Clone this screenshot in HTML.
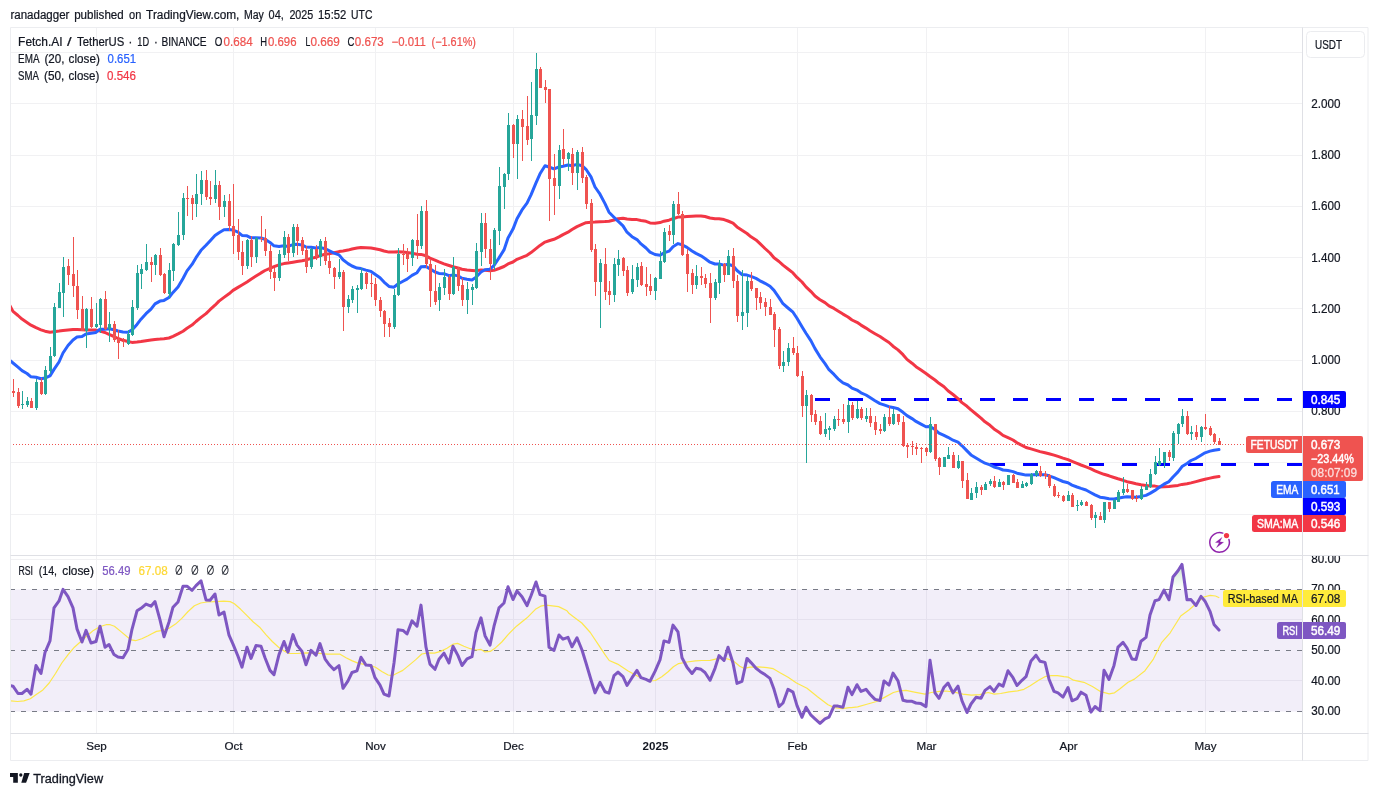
<!DOCTYPE html><html><head><meta charset="utf-8"><title>FETUSDT chart</title>
<style>html,body{margin:0;padding:0;background:#fff}svg{display:block}text{font-family:"Liberation Sans",sans-serif}</style></head><body>
<svg width="1378" height="796" viewBox="0 0 1378 796">
<rect width="1378" height="796" fill="#fff"/>
<defs><clipPath id="cm"><rect x="10.5" y="27.5" width="1292" height="528"/></clipPath><clipPath id="cr"><rect x="10.5" y="556" width="1292" height="177.5"/></clipPath><linearGradient id="gob" x1="0" y1="558" x2="0" y2="589.4" gradientUnits="userSpaceOnUse"><stop offset="0" stop-color="#4caf50" stop-opacity="0.35"/><stop offset="1" stop-color="#4caf50" stop-opacity="0"/></linearGradient><linearGradient id="gos" x1="0" y1="711.4" x2="0" y2="733" gradientUnits="userSpaceOnUse"><stop offset="0" stop-color="#ff5252" stop-opacity="0"/><stop offset="1" stop-color="#ff5252" stop-opacity="0.3"/></linearGradient><clipPath id="cx"><rect x="1303" y="556" width="66" height="177"/></clipPath></defs>
<path d="M96.5 27.5V733.5 M233.5 27.5V733.5 M375.5 27.5V733.5 M513.5 27.5V733.5 M655.5 27.5V733.5 M797.5 27.5V733.5 M926.5 27.5V733.5 M1068.5 27.5V733.5 M1205.5 27.5V733.5 M10.5 52.5H1302.5 M10.5 103.5H1302.5 M10.5 155.5H1302.5 M10.5 206.5H1302.5 M10.5 257.5H1302.5 M10.5 308.5H1302.5 M10.5 360.5H1302.5 M10.5 411.5H1302.5 M10.5 462.5H1302.5 M10.5 514.5H1302.5 M10.5 559.5H1302.5 M10.5 619.5H1302.5 M10.5 680.5H1302.5" stroke="#f1f1f3" stroke-width="1" fill="none"/>
<rect x="10.5" y="589.5" width="1292" height="122.0" fill="#7e57c2" fill-opacity="0.1"/>
<path d="M10 589.5H1302.5" stroke="#787b86" stroke-width="1" stroke-dasharray="5 6" fill="none"/>
<path d="M10 650.5H1302.5" stroke="#787b86" stroke-width="1" stroke-dasharray="5 6" fill="none"/>
<path d="M10 711.5H1302.5" stroke="#787b86" stroke-width="1" stroke-dasharray="5 6" fill="none"/>
<g clip-path="url(#cm)">
<path d="M815 399.5H1302.5" stroke="#0000ff" stroke-width="3" stroke-dasharray="15 18" fill="none"/>
<path d="M990 464.5H1302.5" stroke="#0000ff" stroke-width="3" stroke-dasharray="15 18" fill="none"/>
<path d="M9.0 304.0 L13.0 311.4 L18.0 315.5 L22.0 319.1 L27.0 322.5 L31.0 325.2 L36.0 327.7 L41.0 329.8 L45.0 331.2 L50.0 332.2 L54.0 331.7 L59.0 331.1 L63.0 330.5 L68.0 330.0 L73.0 329.5 L77.0 329.6 L82.0 329.7 L86.0 329.9 L91.0 329.9 L96.0 330.1 L100.0 331.0 L105.0 332.5 L109.0 334.4 L114.0 336.5 L118.0 338.5 L123.0 340.3 L128.0 341.5 L132.0 342.4 L137.0 342.1 L141.0 341.6 L146.0 340.7 L151.0 340.0 L155.0 339.4 L160.0 339.1 L164.0 338.7 L169.0 338.0 L173.0 336.3 L178.0 333.9 L183.0 331.2 L187.0 328.3 L192.0 325.1 L196.0 321.5 L201.0 317.4 L206.0 313.6 L210.0 309.7 L215.0 305.2 L219.0 301.1 L224.0 297.4 L229.0 293.8 L233.0 290.4 L238.0 287.4 L242.0 285.0 L247.0 281.9 L251.0 279.2 L256.0 276.1 L261.0 272.9 L265.0 270.5 L270.0 268.3 L274.0 266.7 L279.0 264.8 L284.0 263.6 L288.0 263.0 L293.0 262.2 L297.0 261.6 L302.0 260.8 L306.0 260.0 L311.0 258.4 L316.0 257.3 L320.0 255.6 L325.0 254.3 L329.0 253.7 L334.0 252.7 L339.0 251.6 L343.0 251.0 L348.0 250.1 L352.0 249.0 L357.0 248.1 L361.0 247.4 L366.0 247.7 L371.0 248.0 L375.0 248.7 L380.0 249.7 L384.0 251.0 L389.0 252.1 L394.0 252.1 L398.0 251.8 L403.0 252.0 L407.0 252.5 L412.0 253.3 L417.0 254.3 L421.0 254.4 L426.0 255.8 L430.0 258.1 L435.0 260.1 L439.0 261.9 L444.0 263.8 L449.0 265.5 L453.0 266.8 L458.0 268.0 L462.0 269.3 L467.0 270.0 L472.0 270.4 L476.0 270.7 L481.0 270.0 L485.0 270.2 L490.0 270.7 L494.0 270.3 L499.0 268.5 L504.0 266.5 L508.0 263.9 L513.0 262.0 L517.0 259.3 L522.0 257.3 L527.0 255.3 L531.0 252.6 L536.0 248.6 L540.0 245.4 L545.0 242.1 L549.0 240.8 L554.0 239.3 L559.0 236.9 L563.0 234.6 L568.0 232.2 L572.0 229.5 L577.0 226.6 L582.0 224.4 L586.0 222.7 L591.0 222.2 L595.0 222.1 L600.0 221.7 L605.0 221.6 L609.0 221.2 L614.0 220.0 L618.0 218.7 L623.0 218.2 L627.0 219.0 L632.0 219.4 L637.0 219.6 L641.0 220.5 L646.0 221.3 L650.0 222.9 L655.0 223.2 L660.0 222.6 L664.0 221.2 L669.0 220.2 L673.0 218.7 L678.0 217.1 L682.0 216.9 L687.0 216.6 L692.0 216.3 L696.0 216.1 L701.0 215.9 L705.0 216.5 L710.0 218.0 L715.0 218.7 L719.0 218.7 L724.0 219.6 L728.0 221.0 L733.0 223.1 L737.0 226.9 L742.0 230.3 L747.0 233.5 L751.0 236.8 L756.0 239.9 L760.0 243.7 L765.0 248.5 L770.0 253.0 L774.0 257.8 L779.0 261.5 L783.0 265.1 L788.0 269.0 L793.0 272.9 L797.0 277.4 L802.0 282.0 L806.0 286.9 L811.0 291.6 L815.0 296.0 L820.0 299.7 L825.0 302.6 L829.0 305.9 L834.0 308.4 L838.0 310.9 L843.0 314.1 L848.0 317.0 L852.0 320.0 L857.0 322.3 L861.0 325.1 L866.0 328.1 L870.0 330.8 L875.0 333.7 L880.0 336.5 L884.0 339.3 L889.0 342.5 L893.0 346.2 L898.0 349.9 L903.0 354.7 L907.0 359.4 L912.0 363.2 L916.0 366.7 L921.0 370.0 L926.0 373.5 L930.0 376.5 L935.0 380.0 L939.0 383.3 L944.0 386.8 L948.0 390.7 L953.0 394.5 L958.0 398.6 L962.0 402.6 L967.0 406.3 L971.0 409.9 L976.0 414.0 L981.0 418.1 L985.0 421.8 L990.0 425.3 L994.0 428.9 L999.0 432.3 L1003.0 435.4 L1008.0 437.6 L1013.0 440.0 L1017.0 442.8 L1022.0 445.4 L1026.0 447.5 L1031.0 448.9 L1036.0 450.4 L1040.0 451.6 L1045.0 452.7 L1049.0 453.7 L1054.0 455.1 L1058.0 456.4 L1063.0 458.1 L1068.0 459.6 L1072.0 461.3 L1077.0 463.3 L1081.0 465.0 L1086.0 466.9 L1091.0 468.9 L1095.0 470.9 L1100.0 472.8 L1104.0 474.3 L1109.0 475.8 L1114.0 477.5 L1118.0 478.8 L1123.0 480.3 L1127.0 481.7 L1132.0 482.8 L1136.0 483.8 L1141.0 484.7 L1146.0 485.4 L1150.0 485.9 L1155.0 486.1 L1159.0 486.9 L1164.0 486.7 L1169.0 486.5 L1173.0 486.0 L1178.0 485.4 L1182.0 484.4 L1187.0 483.8 L1191.0 482.9 L1196.0 481.6 L1201.0 480.3 L1205.0 479.2 L1210.0 478.1 L1214.0 477.2 L1219.0 476.5" stroke="#f23645" stroke-width="3" fill="none" stroke-linejoin="round" stroke-linecap="round"/>
<path d="M9.0 359.5 L13.0 363.0 L18.0 367.1 L22.0 370.6 L27.0 373.5 L31.0 376.8 L36.0 377.3 L41.0 378.8 L45.0 378.0 L50.0 375.9 L54.0 369.4 L59.0 362.0 L63.0 353.0 L68.0 345.5 L73.0 339.9 L77.0 337.1 L82.0 336.5 L86.0 333.9 L91.0 333.2 L96.0 332.4 L100.0 329.2 L105.0 329.2 L109.0 328.7 L114.0 329.7 L118.0 331.0 L123.0 332.0 L128.0 332.2 L132.0 329.9 L137.0 324.4 L141.0 319.2 L146.0 313.7 L151.0 309.1 L155.0 303.9 L160.0 301.1 L164.0 300.4 L169.0 297.5 L173.0 292.4 L178.0 286.9 L183.0 278.5 L187.0 270.9 L192.0 264.4 L196.0 257.7 L201.0 250.3 L206.0 245.3 L210.0 240.9 L215.0 235.5 L219.0 232.8 L224.0 229.8 L229.0 229.4 L233.0 230.0 L238.0 232.2 L242.0 235.4 L247.0 235.8 L251.0 237.8 L256.0 237.8 L261.0 238.0 L265.0 239.2 L270.0 242.4 L274.0 245.8 L279.0 246.6 L284.0 245.7 L288.0 246.4 L293.0 244.6 L297.0 244.2 L302.0 244.9 L306.0 247.0 L311.0 247.2 L316.0 248.1 L320.0 247.4 L325.0 248.7 L329.0 250.6 L334.0 253.1 L339.0 254.9 L343.0 259.8 L348.0 263.6 L352.0 266.0 L357.0 268.1 L361.0 268.6 L366.0 270.1 L371.0 271.4 L375.0 274.2 L380.0 277.7 L384.0 282.1 L389.0 286.4 L394.0 287.2 L398.0 284.0 L403.0 281.3 L407.0 279.1 L412.0 275.4 L417.0 272.7 L421.0 266.8 L426.0 266.5 L430.0 268.9 L435.0 272.0 L439.0 273.4 L444.0 273.7 L449.0 275.7 L453.0 274.9 L458.0 275.9 L462.0 278.2 L467.0 279.2 L472.0 279.9 L476.0 277.2 L481.0 272.0 L485.0 269.8 L490.0 269.2 L494.0 265.5 L499.0 257.9 L504.0 249.9 L508.0 238.0 L513.0 229.1 L517.0 218.7 L522.0 209.9 L527.0 203.2 L531.0 194.8 L536.0 182.8 L540.0 173.8 L545.0 165.8 L549.0 167.0 L554.0 168.8 L559.0 167.0 L563.0 166.2 L568.0 165.0 L572.0 165.7 L577.0 164.4 L582.0 165.7 L586.0 169.3 L591.0 176.9 L595.0 187.0 L600.0 194.2 L605.0 203.6 L609.0 212.2 L614.0 217.2 L618.0 221.2 L623.0 225.9 L627.0 232.2 L632.0 236.7 L637.0 239.6 L641.0 243.9 L646.0 248.0 L650.0 252.1 L655.0 254.5 L660.0 255.2 L664.0 252.9 L669.0 251.2 L673.0 246.7 L678.0 243.6 L682.0 244.7 L687.0 247.4 L692.0 251.0 L696.0 253.4 L701.0 255.8 L705.0 258.5 L710.0 262.2 L715.0 264.0 L719.0 264.0 L724.0 265.1 L728.0 264.2 L733.0 265.8 L737.0 270.5 L742.0 274.5 L747.0 275.1 L751.0 276.4 L756.0 278.4 L760.0 280.8 L765.0 283.3 L770.0 286.3 L774.0 290.4 L779.0 297.6 L783.0 303.7 L788.0 308.0 L793.0 312.2 L797.0 318.3 L802.0 326.7 L806.0 333.2 L811.0 340.9 L815.0 348.6 L820.0 356.8 L825.0 363.6 L829.0 369.7 L834.0 374.4 L838.0 378.8 L843.0 382.9 L848.0 385.0 L852.0 388.2 L857.0 390.1 L861.0 392.8 L866.0 395.0 L870.0 397.6 L875.0 400.7 L880.0 403.6 L884.0 404.9 L889.0 406.7 L893.0 407.4 L898.0 408.8 L903.0 412.3 L907.0 415.6 L912.0 418.6 L916.0 421.4 L921.0 424.1 L926.0 426.8 L930.0 426.5 L935.0 429.6 L939.0 433.1 L944.0 435.4 L948.0 437.3 L953.0 440.2 L958.0 442.2 L962.0 445.8 L967.0 450.9 L971.0 454.9 L976.0 458.0 L981.0 461.0 L985.0 463.2 L990.0 464.9 L994.0 467.0 L999.0 468.4 L1003.0 470.0 L1008.0 470.5 L1013.0 471.6 L1017.0 473.2 L1022.0 474.2 L1026.0 475.1 L1031.0 474.9 L1036.0 474.6 L1040.0 474.7 L1045.0 474.8 L1049.0 475.8 L1054.0 477.7 L1058.0 479.4 L1063.0 481.5 L1068.0 482.8 L1072.0 485.1 L1077.0 487.0 L1081.0 488.4 L1086.0 490.0 L1091.0 492.7 L1095.0 494.8 L1100.0 497.2 L1104.0 497.7 L1109.0 498.7 L1114.0 498.9 L1118.0 498.2 L1123.0 497.3 L1127.0 496.8 L1132.0 497.0 L1136.0 497.2 L1141.0 496.4 L1146.0 495.4 L1150.0 493.4 L1155.0 490.4 L1159.0 487.6 L1164.0 484.2 L1169.0 481.6 L1173.0 477.0 L1178.0 471.9 L1182.0 466.6 L1187.0 463.5 L1191.0 460.5 L1196.0 458.3 L1201.0 455.2 L1205.0 452.8 L1210.0 451.1 L1214.0 450.2 L1219.0 449.6" stroke="#2962ff" stroke-width="3" fill="none" stroke-linejoin="round" stroke-linecap="round"/>
<path d="M22.5 391V409 M27.5 397V407 M36.5 379V410 M45.5 366V395 M50.5 347V374 M54.5 303V357 M59.5 283V308 M63.5 257V317 M86.5 308V348 M96.5 303V328 M100.5 298V333 M109.5 312V342 M128.5 330V345 M132.5 300V336 M137.5 265V310 M141.5 264V289 M146.5 244V271 M155.5 254V275 M169.5 263V298 M173.5 243V281 M178.5 212V246 M183.5 193V240 M196.5 174V217 M201.5 171V205 M215.5 170V203 M224.5 195V217 M247.5 239V269 M256.5 237V263 M279.5 250V281 M284.5 231V258 M293.5 224V257 M311.5 248V269 M320.5 239V266 M339.5 259V279 M348.5 295V313 M352.5 286V303 M357.5 285V313 M361.5 268V290 M394.5 289V329 M398.5 248V296 M412.5 239V266 M421.5 206V249 M439.5 283V311 M444.5 269V295 M453.5 257V295 M467.5 282V314 M472.5 284V305 M476.5 243V289 M481.5 213V266 M494.5 228V270 M499.5 167V245 M504.5 173V209 M508.5 113V180 M517.5 115V179 M531.5 82V161 M536.5 53V125 M559.5 145V199 M568.5 152V171 M577.5 150V190 M600.5 259V328 M614.5 258V302 M618.5 250V276 M632.5 265V294 M637.5 263V287 M655.5 277V300 M660.5 251V279 M664.5 228V263 M673.5 201V244 M696.5 265V289 M715.5 279V300 M719.5 260V294 M728.5 250V275 M742.5 270V330 M747.5 276V327 M783.5 351V372 M788.5 343V366 M806.5 390V463 M825.5 413V437 M829.5 426V440 M834.5 416V431 M848.5 400V433 M857.5 401V419 M866.5 408V422 M884.5 414V432 M893.5 409V425 M930.5 417V453 M944.5 457V467 M948.5 447V459 M958.5 455V469 M971.5 488V500 M976.5 482V498 M985.5 482V490 M990.5 479V486 M999.5 479V487 M1008.5 475V485 M1022.5 481V488 M1026.5 482V487 M1031.5 473V485 M1036.5 470V477 M1068.5 491V501 M1077.5 500V511 M1081.5 500V506 M1095.5 512V528 M1104.5 502V523 M1114.5 499V509 M1118.5 490V502 M1123.5 477V495 M1141.5 486V500 M1146.5 482V490 M1150.5 469V488 M1155.5 456V475 M1159.5 448V466 M1164.5 452V468 M1173.5 431V461 M1178.5 423V444 M1182.5 409V427 M1191.5 426V440 M1201.5 426V442" stroke="#26a69a" stroke-width="1" fill="none"/>
<path d="M13.5 379V397 M18.5 388V408 M31.5 398V408 M41.5 378V395 M68.5 259V285 M73.5 237V297 M77.5 270V319 M82.5 296V331 M91.5 297V328 M105.5 291V330 M114.5 321V342 M118.5 330V359 M123.5 338V347 M151.5 257V282 M160.5 248V276 M164.5 273V294 M187.5 186V216 M192.5 195V220 M206.5 170V200 M210.5 181V205 M219.5 181V220 M229.5 194V231 M233.5 184V254 M238.5 219V260 M242.5 241V275 M251.5 236V267 M261.5 216V242 M265.5 229V256 M270.5 245V279 M274.5 268V291 M288.5 234V261 M297.5 224V255 M302.5 237V255 M306.5 246V273 M316.5 245V260 M325.5 237V265 M329.5 255V274 M334.5 267V289 M343.5 270V331 M366.5 272V289 M371.5 274V297 M375.5 278V306 M380.5 297V317 M384.5 310V337 M389.5 318V337 M403.5 244V265 M407.5 248V272 M417.5 214V259 M426.5 200V268 M430.5 260V307 M435.5 265V305 M449.5 275V300 M458.5 267V291 M462.5 278V306 M485.5 213V258 M490.5 239V280 M513.5 124V158 M522.5 110V161 M527.5 96V145 M540.5 67V88 M545.5 80V103 M549.5 89V221 M554.5 154V215 M563.5 129V165 M572.5 148V185 M582.5 147V183 M586.5 175V209 M591.5 199V252 M595.5 244V296 M605.5 248V300 M609.5 281V305 M623.5 257V276 M627.5 266V296 M641.5 262V286 M646.5 267V296 M650.5 274V295 M669.5 225V241 M678.5 192V215 M682.5 211V256 M687.5 249V292 M692.5 269V294 M701.5 267V285 M705.5 274V288 M710.5 273V323 M724.5 263V282 M733.5 248V288 M737.5 275V322 M751.5 272V291 M756.5 288V310 M760.5 292V309 M765.5 298V316 M770.5 299V315 M774.5 312V347 M779.5 327V369 M793.5 337V355 M797.5 346V377 M802.5 371V417 M811.5 394V422 M815.5 410V425 M820.5 416V435 M838.5 409V426 M843.5 404V424 M852.5 402V420 M861.5 407V420 M870.5 408V427 M875.5 416V435 M880.5 424V434 M889.5 406V426 M898.5 414V425 M903.5 416V447 M907.5 443V458 M912.5 441V455 M916.5 443V455 M921.5 447V463 M926.5 447V456 M935.5 424V461 M939.5 457V475 M953.5 452V468 M962.5 461V488 M967.5 473V499 M981.5 485V495 M994.5 476V488 M1003.5 481V490 M1013.5 474V483 M1017.5 479V488 M1040.5 466V477 M1045.5 471V479 M1049.5 474V488 M1054.5 484V497 M1058.5 492V498 M1063.5 495V502 M1072.5 493V507 M1086.5 501V506 M1091.5 504V520 M1100.5 512V520 M1109.5 502V512 M1127.5 484V493 M1132.5 490V500 M1136.5 495V502 M1169.5 450V461 M1187.5 411V435 M1196.5 425V440 M1205.5 414V430 M1210.5 426V436 M1214.5 433V444 M1219.5 438V445" stroke="#ef5350" stroke-width="1" fill="none"/>
<path d="M21 404h3v1h-3z M26 401h3v4h-3z M35 382h3v26h-3z M44 370h3v24h-3z M49 356h3v15h-3z M53 307h3v49h-3z M58 292h3v16h-3z M62 267h3v26h-3z M85 309h3v22h-3z M95 324h3v3h-3z M99 299h3v26h-3z M108 324h3v5h-3z M127 334h3v10h-3z M131 307h3v28h-3z M136 273h3v35h-3z M140 269h3v5h-3z M145 262h3v8h-3z M154 255h3v10h-3z M168 270h3v24h-3z M172 244h3v27h-3z M177 235h3v10h-3z M182 198h3v37h-3z M195 194h3v10h-3z M200 180h3v14h-3z M214 185h3v14h-3z M223 201h3v6h-3z M246 240h3v26h-3z M255 238h3v19h-3z M278 254h3v24h-3z M283 237h3v18h-3z M292 227h3v26h-3z M310 249h3v18h-3z M319 241h3v16h-3z M338 272h3v5h-3z M347 299h3v8h-3z M351 289h3v11h-3z M356 288h3v2h-3z M360 273h3v16h-3z M393 295h3v32h-3z M397 254h3v41h-3z M411 240h3v18h-3z M420 211h3v35h-3z M438 287h3v13h-3z M443 277h3v11h-3z M452 267h3v27h-3z M466 289h3v11h-3z M471 287h3v3h-3z M475 251h3v37h-3z M480 223h3v29h-3z M493 230h3v34h-3z M498 186h3v45h-3z M503 174h3v13h-3z M507 125h3v49h-3z M516 119h3v25h-3z M530 115h3v24h-3z M535 69h3v47h-3z M558 150h3v36h-3z M567 153h3v6h-3z M576 152h3v21h-3z M599 263h3v19h-3z M613 264h3v31h-3z M617 259h3v6h-3z M631 279h3v13h-3z M636 267h3v13h-3z M654 278h3v13h-3z M659 261h3v18h-3z M663 232h3v30h-3z M672 204h3v31h-3z M695 276h3v9h-3z M714 282h3v16h-3z M718 264h3v19h-3z M727 256h3v19h-3z M741 312h3v4h-3z M746 281h3v32h-3z M782 362h3v4h-3z M787 348h3v14h-3z M805 395h3v11h-3z M824 429h3v5h-3z M828 428h3v2h-3z M833 419h3v10h-3z M847 405h3v17h-3z M856 409h3v9h-3z M865 416h3v3h-3z M883 417h3v14h-3z M892 414h3v10h-3z M929 424h3v28h-3z M943 457h3v10h-3z M947 455h3v4h-3z M957 461h3v7h-3z M970 493h3v7h-3z M975 487h3v6h-3z M984 484h3v6h-3z M989 481h3v3h-3z M998 482h3v5h-3z M1007 475h3v10h-3z M1021 484h3v4h-3z M1025 483h3v3h-3z M1030 474h3v10h-3z M1035 471h3v4h-3z M1067 495h3v6h-3z M1076 505h3v1h-3z M1080 502h3v3h-3z M1094 515h3v3h-3z M1103 502h3v18h-3z M1113 500h3v9h-3z M1117 492h3v10h-3z M1122 489h3v4h-3z M1140 489h3v10h-3z M1145 486h3v4h-3z M1149 474h3v13h-3z M1154 462h3v12h-3z M1158 461h3v4h-3z M1163 452h3v11h-3z M1172 433h3v25h-3z M1177 424h3v10h-3z M1181 416h3v8h-3z M1190 432h3v2h-3z M1200 427h3v10h-3z" fill="#26a69a"/>
<path d="M12 391h3v2h-3z M17 392h3v14h-3z M30 401h3v7h-3z M40 382h3v12h-3z M67 266h3v9h-3z M72 274h3v12h-3z M76 286h3v24h-3z M81 309h3v22h-3z M90 309h3v18h-3z M104 299h3v30h-3z M113 324h3v16h-3z M117 339h3v4h-3z M122 341h3v1h-3z M150 262h3v3h-3z M159 255h3v20h-3z M163 274h3v19h-3z M186 198h3v1h-3z M191 198h3v6h-3z M205 180h3v17h-3z M209 197h3v2h-3z M218 185h3v22h-3z M228 201h3v25h-3z M232 226h3v10h-3z M237 235h3v17h-3z M241 252h3v14h-3z M250 240h3v17h-3z M260 238h3v1h-3z M264 238h3v13h-3z M269 251h3v21h-3z M273 272h3v6h-3z M287 237h3v16h-3z M296 227h3v14h-3z M301 240h3v11h-3z M305 250h3v17h-3z M315 249h3v8h-3z M324 241h3v20h-3z M328 261h3v7h-3z M333 268h3v9h-3z M342 272h3v35h-3z M365 273h3v11h-3z M370 283h3v1h-3z M374 284h3v16h-3z M379 300h3v11h-3z M383 311h3v13h-3z M388 323h3v4h-3z M402 254h3v1h-3z M406 254h3v5h-3z M416 240h3v6h-3z M425 211h3v53h-3z M429 264h3v27h-3z M434 291h3v11h-3z M448 277h3v17h-3z M457 268h3v18h-3z M461 285h3v15h-3z M484 223h3v26h-3z M489 249h3v15h-3z M512 125h3v19h-3z M521 119h3v8h-3z M526 126h3v14h-3z M539 69h3v19h-3z M544 87h3v3h-3z M548 89h3v90h-3z M553 178h3v8h-3z M562 149h3v10h-3z M571 154h3v19h-3z M581 152h3v26h-3z M585 177h3v27h-3z M590 203h3v47h-3z M594 249h3v33h-3z M604 264h3v28h-3z M608 291h3v4h-3z M622 258h3v13h-3z M626 270h3v23h-3z M640 266h3v19h-3z M645 284h3v3h-3z M649 286h3v5h-3z M668 231h3v4h-3z M677 204h3v10h-3z M681 214h3v41h-3z M686 254h3v20h-3z M691 273h3v12h-3z M700 276h3v2h-3z M704 278h3v6h-3z M709 283h3v15h-3z M723 264h3v11h-3z M732 256h3v25h-3z M736 281h3v35h-3z M750 281h3v8h-3z M755 288h3v10h-3z M759 297h3v6h-3z M764 302h3v5h-3z M769 307h3v8h-3z M773 314h3v16h-3z M778 329h3v37h-3z M792 348h3v5h-3z M796 353h3v23h-3z M801 376h3v30h-3z M810 395h3v20h-3z M814 414h3v8h-3z M819 421h3v13h-3z M837 419h3v1h-3z M842 419h3v3h-3z M851 405h3v13h-3z M860 409h3v9h-3z M869 416h3v7h-3z M874 422h3v8h-3z M879 429h3v2h-3z M888 417h3v7h-3z M897 414h3v8h-3z M902 422h3v24h-3z M906 445h3v2h-3z M911 446h3v1h-3z M915 447h3v2h-3z M920 448h3v1h-3z M925 448h3v4h-3z M934 424h3v35h-3z M938 458h3v9h-3z M952 455h3v13h-3z M961 461h3v20h-3z M966 480h3v19h-3z M980 487h3v3h-3z M993 481h3v6h-3z M1002 482h3v3h-3z M1012 475h3v8h-3z M1016 482h3v6h-3z M1039 471h3v5h-3z M1044 474h3v2h-3z M1048 475h3v11h-3z M1053 486h3v10h-3z M1057 495h3v1h-3z M1062 496h3v5h-3z M1071 495h3v12h-3z M1085 502h3v4h-3z M1090 505h3v13h-3z M1099 516h3v4h-3z M1108 502h3v7h-3z M1126 489h3v3h-3z M1131 490h3v9h-3z M1135 498h3v1h-3z M1168 452h3v5h-3z M1186 416h3v18h-3z M1195 432h3v5h-3z M1204 427h3v2h-3z M1209 428h3v7h-3z M1213 434h3v8h-3z M1218 441h3v4h-3z" fill="#ef5350"/>
<path d="M10 444.5H1246" stroke="#ef5350" stroke-width="1" stroke-dasharray="1 2" fill="none"/>
</g>
<g clip-path="url(#cr)">
<path d="M8.0 589.5 L13.0 589.5 L18.0 589.5 L22.0 589.5 L27.0 589.5 L31.0 589.5 L36.0 589.5 L41.0 589.5 L45.0 589.5 L50.0 589.5 L54.0 589.5 L59.0 589.5 L63.0 589.4 L68.0 589.5 L73.0 589.5 L77.0 589.5 L82.0 589.5 L86.0 589.5 L91.0 589.5 L96.0 589.5 L100.0 589.5 L105.0 589.5 L109.0 589.5 L114.0 589.5 L118.0 589.5 L123.0 589.5 L128.0 589.5 L132.0 589.5 L137.0 589.5 L141.0 589.5 L146.0 589.5 L151.0 589.5 L155.0 589.5 L160.0 589.5 L164.0 589.5 L169.0 589.5 L173.0 589.5 L178.0 589.5 L183.0 586.2 L187.0 586.2 L192.0 589.5 L196.0 585.6 L201.0 580.9 L206.0 589.5 L210.0 589.5 L215.0 589.5 L219.0 589.5 L224.0 589.5 L229.0 589.5 L233.0 589.5 L238.0 589.5 L242.0 589.5 L247.0 589.5 L251.0 589.5 L256.0 589.5 L261.0 589.5 L265.0 589.5 L270.0 589.5 L274.0 589.5 L279.0 589.5 L284.0 589.5 L288.0 589.5 L293.0 589.5 L297.0 589.5 L302.0 589.5 L306.0 589.5 L311.0 589.5 L316.0 589.5 L320.0 589.5 L325.0 589.5 L329.0 589.5 L334.0 589.5 L339.0 589.5 L343.0 589.5 L348.0 589.5 L352.0 589.5 L357.0 589.5 L361.0 589.5 L366.0 589.5 L371.0 589.5 L375.0 589.5 L380.0 589.5 L384.0 589.5 L389.0 589.5 L394.0 589.5 L398.0 589.5 L403.0 589.5 L407.0 589.5 L412.0 589.5 L417.0 589.5 L421.0 589.5 L426.0 589.5 L430.0 589.5 L435.0 589.5 L439.0 589.5 L444.0 589.5 L449.0 589.5 L453.0 589.5 L458.0 589.5 L462.0 589.5 L467.0 589.5 L472.0 589.5 L476.0 589.5 L481.0 589.5 L485.0 589.5 L490.0 589.5 L494.0 589.5 L499.0 589.5 L504.0 589.5 L508.0 586.8 L513.0 589.5 L517.0 589.5 L522.0 589.5 L527.0 589.5 L531.0 589.5 L536.0 582.0 L540.0 589.5 L545.0 589.5 L549.0 589.5 L554.0 589.5 L559.0 589.5 L563.0 589.5 L568.0 589.5 L572.0 589.5 L577.0 589.5 L582.0 589.5 L586.0 589.5 L591.0 589.5 L595.0 589.5 L600.0 589.5 L605.0 589.5 L609.0 589.5 L614.0 589.5 L618.0 589.5 L623.0 589.5 L627.0 589.5 L632.0 589.5 L637.0 589.5 L641.0 589.5 L646.0 589.5 L650.0 589.5 L655.0 589.5 L660.0 589.5 L664.0 589.5 L669.0 589.5 L673.0 589.5 L678.0 589.5 L682.0 589.5 L687.0 589.5 L692.0 589.5 L696.0 589.5 L701.0 589.5 L705.0 589.5 L710.0 589.5 L715.0 589.5 L719.0 589.5 L724.0 589.5 L728.0 589.5 L733.0 589.5 L737.0 589.5 L742.0 589.5 L747.0 589.5 L751.0 589.5 L756.0 589.5 L760.0 589.5 L765.0 589.5 L770.0 589.5 L774.0 589.5 L779.0 589.5 L783.0 589.5 L788.0 589.5 L793.0 589.5 L797.0 589.5 L802.0 589.5 L806.0 589.5 L811.0 589.5 L815.0 589.5 L820.0 589.5 L825.0 589.5 L829.0 589.5 L834.0 589.5 L838.0 589.5 L843.0 589.5 L848.0 589.5 L852.0 589.5 L857.0 589.5 L861.0 589.5 L866.0 589.5 L870.0 589.5 L875.0 589.5 L880.0 589.5 L884.0 589.5 L889.0 589.5 L893.0 589.5 L898.0 589.5 L903.0 589.5 L907.0 589.5 L912.0 589.5 L916.0 589.5 L921.0 589.5 L926.0 589.5 L930.0 589.5 L935.0 589.5 L939.0 589.5 L944.0 589.5 L948.0 589.5 L953.0 589.5 L958.0 589.5 L962.0 589.5 L967.0 589.5 L971.0 589.5 L976.0 589.5 L981.0 589.5 L985.0 589.5 L990.0 589.5 L994.0 589.5 L999.0 589.5 L1003.0 589.5 L1008.0 589.5 L1013.0 589.5 L1017.0 589.5 L1022.0 589.5 L1026.0 589.5 L1031.0 589.5 L1036.0 589.5 L1040.0 589.5 L1045.0 589.5 L1049.0 589.5 L1054.0 589.5 L1058.0 589.5 L1063.0 589.5 L1068.0 589.5 L1072.0 589.5 L1077.0 589.5 L1081.0 589.5 L1086.0 589.5 L1091.0 589.5 L1095.0 589.5 L1100.0 589.5 L1104.0 589.5 L1109.0 589.5 L1114.0 589.5 L1118.0 589.5 L1123.0 589.5 L1127.0 589.5 L1132.0 589.5 L1136.0 589.5 L1141.0 589.5 L1146.0 589.5 L1150.0 589.5 L1155.0 589.5 L1159.0 589.5 L1164.0 589.5 L1169.0 589.5 L1173.0 577.0 L1178.0 570.7 L1182.0 564.4 L1187.0 589.5 L1191.0 589.5 L1196.0 589.5 L1201.0 589.5 L1205.0 589.5 L1210.0 589.5 L1214.0 589.5 L1219.0 589.5 L1219.0 589.5 L8.0 589.5Z" fill="url(#gob)"/>
<path d="M8.0 711.5 L13.0 711.5 L18.0 711.5 L22.0 711.5 L27.0 711.5 L31.0 711.5 L36.0 711.5 L41.0 711.5 L45.0 711.5 L50.0 711.5 L54.0 711.5 L59.0 711.5 L63.0 711.5 L68.0 711.5 L73.0 711.5 L77.0 711.5 L82.0 711.5 L86.0 711.5 L91.0 711.5 L96.0 711.5 L100.0 711.5 L105.0 711.5 L109.0 711.5 L114.0 711.5 L118.0 711.5 L123.0 711.5 L128.0 711.5 L132.0 711.5 L137.0 711.5 L141.0 711.5 L146.0 711.5 L151.0 711.5 L155.0 711.5 L160.0 711.5 L164.0 711.5 L169.0 711.5 L173.0 711.5 L178.0 711.5 L183.0 711.5 L187.0 711.5 L192.0 711.5 L196.0 711.5 L201.0 711.5 L206.0 711.5 L210.0 711.5 L215.0 711.5 L219.0 711.5 L224.0 711.5 L229.0 711.5 L233.0 711.5 L238.0 711.5 L242.0 711.5 L247.0 711.5 L251.0 711.5 L256.0 711.5 L261.0 711.5 L265.0 711.5 L270.0 711.5 L274.0 711.5 L279.0 711.5 L284.0 711.5 L288.0 711.5 L293.0 711.5 L297.0 711.5 L302.0 711.5 L306.0 711.5 L311.0 711.5 L316.0 711.5 L320.0 711.5 L325.0 711.5 L329.0 711.5 L334.0 711.5 L339.0 711.5 L343.0 711.5 L348.0 711.5 L352.0 711.5 L357.0 711.5 L361.0 711.5 L366.0 711.5 L371.0 711.5 L375.0 711.5 L380.0 711.5 L384.0 711.5 L389.0 711.5 L394.0 711.5 L398.0 711.5 L403.0 711.5 L407.0 711.5 L412.0 711.5 L417.0 711.5 L421.0 711.5 L426.0 711.5 L430.0 711.5 L435.0 711.5 L439.0 711.5 L444.0 711.5 L449.0 711.5 L453.0 711.5 L458.0 711.5 L462.0 711.5 L467.0 711.5 L472.0 711.5 L476.0 711.5 L481.0 711.5 L485.0 711.5 L490.0 711.5 L494.0 711.5 L499.0 711.5 L504.0 711.5 L508.0 711.5 L513.0 711.5 L517.0 711.5 L522.0 711.5 L527.0 711.5 L531.0 711.5 L536.0 711.5 L540.0 711.5 L545.0 711.5 L549.0 711.5 L554.0 711.5 L559.0 711.5 L563.0 711.5 L568.0 711.5 L572.0 711.5 L577.0 711.5 L582.0 711.5 L586.0 711.5 L591.0 711.5 L595.0 711.5 L600.0 711.5 L605.0 711.5 L609.0 711.5 L614.0 711.5 L618.0 711.5 L623.0 711.5 L627.0 711.5 L632.0 711.5 L637.0 711.5 L641.0 711.5 L646.0 711.5 L650.0 711.5 L655.0 711.5 L660.0 711.5 L664.0 711.5 L669.0 711.5 L673.0 711.5 L678.0 711.5 L682.0 711.5 L687.0 711.5 L692.0 711.5 L696.0 711.5 L701.0 711.5 L705.0 711.5 L710.0 711.5 L715.0 711.5 L719.0 711.5 L724.0 711.5 L728.0 711.5 L733.0 711.5 L737.0 711.5 L742.0 711.5 L747.0 711.5 L751.0 711.5 L756.0 711.5 L760.0 711.5 L765.0 711.5 L770.0 711.5 L774.0 711.5 L779.0 711.5 L783.0 711.5 L788.0 711.5 L793.0 711.5 L797.0 711.5 L802.0 717.3 L806.0 711.5 L811.0 715.2 L815.0 718.8 L820.0 723.4 L825.0 718.8 L829.0 717.1 L834.0 711.5 L838.0 711.5 L843.0 711.5 L848.0 711.5 L852.0 711.5 L857.0 711.5 L861.0 711.5 L866.0 711.5 L870.0 711.5 L875.0 711.5 L880.0 711.5 L884.0 711.5 L889.0 711.5 L893.0 711.5 L898.0 711.5 L903.0 711.5 L907.0 711.5 L912.0 711.5 L916.0 711.5 L921.0 711.5 L926.0 711.5 L930.0 711.5 L935.0 711.5 L939.0 711.5 L944.0 711.5 L948.0 711.5 L953.0 711.5 L958.0 711.5 L962.0 711.5 L967.0 712.5 L971.0 711.5 L976.0 711.5 L981.0 711.5 L985.0 711.5 L990.0 711.5 L994.0 711.5 L999.0 711.5 L1003.0 711.5 L1008.0 711.5 L1013.0 711.5 L1017.0 711.5 L1022.0 711.5 L1026.0 711.5 L1031.0 711.5 L1036.0 711.5 L1040.0 711.5 L1045.0 711.5 L1049.0 711.5 L1054.0 711.5 L1058.0 711.5 L1063.0 711.5 L1068.0 711.5 L1072.0 711.5 L1077.0 711.5 L1081.0 711.5 L1086.0 711.5 L1091.0 712.1 L1095.0 711.5 L1100.0 711.5 L1104.0 711.5 L1109.0 711.5 L1114.0 711.5 L1118.0 711.5 L1123.0 711.5 L1127.0 711.5 L1132.0 711.5 L1136.0 711.5 L1141.0 711.5 L1146.0 711.5 L1150.0 711.5 L1155.0 711.5 L1159.0 711.5 L1164.0 711.5 L1169.0 711.5 L1173.0 711.5 L1178.0 711.5 L1182.0 711.5 L1187.0 711.5 L1191.0 711.5 L1196.0 711.5 L1201.0 711.5 L1205.0 711.5 L1210.0 711.5 L1214.0 711.5 L1219.0 711.5 L1219.0 711.5 L8.0 711.5Z" fill="url(#gos)"/>
<path d="M10.7 700.9 L17.6 701.5 L23.9 700.9 L30.3 698.8 L36.6 694.2 L42.9 689.9 L49.2 683.0 L55.5 673.5 L61.8 663.0 L68.1 654.6 L74.4 647.2 L80.8 641.5 L87.1 635.7 L93.4 630.4 L99.7 626.8 L106.0 624.7 L110.2 624.7 L114.4 626.2 L120.7 631.4 L127.1 636.7 L131.3 639.9 L135.5 640.7 L141.8 638.8 L148.1 635.7 L152.3 633.5 L156.5 631.4 L162.8 630.4 L169.1 628.3 L175.5 624.1 L181.8 618.4 L188.1 611.5 L194.4 605.8 L200.7 603.0 L207.0 602.0 L215.4 601.6 L223.9 601.1 L230.2 601.6 L234.4 603.7 L240.7 609.3 L247.0 615.7 L253.3 622.0 L259.6 627.2 L265.9 634.6 L272.3 641.5 L278.6 647.2 L284.9 651.4 L289.1 653.5 L289.2 653.5 L297.6 653.5 L306.0 652.9 L316.6 653.1 L327.1 654.2 L335.5 654.2 L339.7 654.0 L346.0 657.7 L352.3 660.9 L358.7 663.4 L369.2 665.1 L375.5 667.2 L381.8 671.4 L388.1 675.0 L392.3 675.6 L396.5 673.5 L402.8 670.4 L409.2 665.1 L415.5 659.9 L421.8 654.0 L428.1 652.9 L434.4 653.1 L440.7 651.4 L447.0 648.3 L453.4 644.1 L457.6 643.4 L463.9 646.2 L470.2 648.7 L476.5 650.0 L480.7 649.3 L484.9 651.9 L490.2 651.4 L495.4 647.9 L501.8 642.0 L508.1 634.6 L516.5 626.2 L527.0 617.8 L535.4 609.3 L540.7 606.2 L545.9 605.1 L552.3 605.8 L558.6 606.6 L567.0 610.8 L569.2 613.6 L573.4 616.7 L581.8 623.0 L590.3 632.5 L598.7 645.1 L605.0 654.6 L609.2 660.5 L617.6 664.1 L628.1 671.0 L638.7 676.7 L649.2 680.9 L655.5 680.5 L661.8 676.7 L668.1 671.8 L673.4 666.8 L678.6 663.6 L687.1 662.0 L695.5 660.9 L701.8 660.5 L710.2 660.3 L718.6 658.4 L727.0 658.8 L733.4 660.9 L739.7 666.2 L743.9 668.3 L750.2 667.2 L758.6 666.8 L767.0 667.6 L773.3 668.7 L779.6 672.5 L788.1 677.3 L796.5 683.0 L807.0 688.3 L817.5 696.7 L828.0 704.7 L834.4 707.6 L842.8 708.7 L849.1 707.6 L851.3 707.6 L857.6 706.8 L866.0 704.5 L876.6 701.5 L885.0 697.1 L893.4 692.5 L899.7 690.8 L906.0 690.4 L914.4 692.1 L925.0 694.2 L931.3 692.5 L939.7 691.4 L946.0 691.0 L954.4 692.1 L962.8 694.2 L971.3 695.2 L979.7 694.6 L988.1 692.5 L994.4 694.2 L1000.7 693.5 L1009.1 691.8 L1017.6 690.8 L1023.9 689.3 L1030.2 685.7 L1038.6 680.3 L1044.9 676.7 L1051.2 675.6 L1057.5 675.6 L1063.9 676.7 L1068.1 677.1 L1073.4 680.2 L1083.9 682.3 L1092.4 686.5 L1100.8 691.7 L1109.2 693.8 L1114.5 692.8 L1119.7 689.0 L1128.1 682.3 L1134.4 679.1 L1145.0 670.7 L1153.4 659.1 L1161.8 642.3 L1170.2 632.8 L1180.7 616.0 L1189.2 609.7 L1197.6 602.3 L1203.9 597.0 L1210.2 595.4 L1215.5 596.0 L1219.3 597.7" stroke="#fde74c" stroke-width="1.2" fill="none" stroke-linejoin="round"/>
<path d="M8.0 685.1 L13.0 686.2 L18.0 693.5 L22.0 693.5 L27.0 689.3 L31.0 694.2 L36.0 665.5 L41.0 673.5 L45.0 652.5 L50.0 640.9 L54.0 607.9 L59.0 600.9 L63.0 589.4 L68.0 596.7 L73.0 607.9 L77.0 628.9 L82.0 642.0 L86.0 630.4 L91.0 643.0 L96.0 641.5 L100.0 626.2 L105.0 647.2 L109.0 644.5 L114.0 654.6 L118.0 657.1 L123.0 657.7 L128.0 649.3 L132.0 629.3 L137.0 610.8 L141.0 608.3 L146.0 604.1 L151.0 606.2 L155.0 601.6 L160.0 619.9 L164.0 636.7 L169.0 622.0 L173.0 607.2 L178.0 602.0 L183.0 586.2 L187.0 586.2 L192.0 590.4 L196.0 585.6 L201.0 580.9 L206.0 599.9 L210.0 600.3 L215.0 594.0 L219.0 615.0 L224.0 612.1 L229.0 635.2 L233.0 644.1 L238.0 656.3 L242.0 667.2 L247.0 647.2 L251.0 658.4 L256.0 645.5 L261.0 646.2 L265.0 657.7 L270.0 670.4 L274.0 674.6 L279.0 654.6 L284.0 641.5 L288.0 652.1 L293.0 634.6 L297.0 645.1 L302.0 651.4 L306.0 664.7 L311.0 650.4 L316.0 655.2 L320.0 643.6 L325.0 658.8 L329.0 664.5 L334.0 669.7 L339.0 665.7 L343.0 688.3 L348.0 680.9 L352.0 672.5 L357.0 670.8 L361.0 657.3 L366.0 665.1 L371.0 665.5 L375.0 677.7 L380.0 685.1 L384.0 694.2 L389.0 696.0 L394.0 663.0 L398.0 629.8 L403.0 630.4 L407.0 634.0 L412.0 620.9 L417.0 626.2 L421.0 605.1 L426.0 647.2 L430.0 664.1 L435.0 669.3 L439.0 659.2 L444.0 653.1 L449.0 663.0 L453.0 646.2 L458.0 655.6 L462.0 665.5 L467.0 658.8 L472.0 656.7 L476.0 632.5 L481.0 617.8 L485.0 635.7 L490.0 645.1 L494.0 626.2 L499.0 607.9 L504.0 603.0 L508.0 586.8 L513.0 599.5 L517.0 591.0 L522.0 596.7 L527.0 605.6 L531.0 595.7 L536.0 582.0 L540.0 594.6 L545.0 596.1 L549.0 647.2 L554.0 650.4 L559.0 635.0 L563.0 639.2 L568.0 637.3 L572.0 646.8 L577.0 637.8 L582.0 650.0 L586.0 663.0 L591.0 679.8 L595.0 692.9 L600.0 682.4 L605.0 691.8 L609.0 693.1 L614.0 675.6 L618.0 672.1 L623.0 676.7 L627.0 685.5 L632.0 677.7 L637.0 670.4 L641.0 677.7 L646.0 679.4 L650.0 681.3 L655.0 671.4 L660.0 659.9 L664.0 640.9 L669.0 642.4 L673.0 625.1 L678.0 631.9 L682.0 657.7 L687.0 667.2 L692.0 673.5 L696.0 668.3 L701.0 669.3 L705.0 672.5 L710.0 680.3 L715.0 668.3 L719.0 655.6 L724.0 660.5 L728.0 647.2 L733.0 663.0 L737.0 683.4 L742.0 681.3 L747.0 658.4 L751.0 662.6 L756.0 668.3 L760.0 671.4 L765.0 674.6 L770.0 678.4 L774.0 689.3 L779.0 706.6 L783.0 703.0 L788.0 689.3 L793.0 692.1 L797.0 705.7 L802.0 717.3 L806.0 707.2 L811.0 715.2 L815.0 718.8 L820.0 723.4 L825.0 718.8 L829.0 717.1 L834.0 706.1 L838.0 706.1 L843.0 707.2 L848.0 687.2 L852.0 694.6 L857.0 684.7 L861.0 691.4 L866.0 689.3 L870.0 694.2 L875.0 699.4 L880.0 700.5 L884.0 680.9 L889.0 685.1 L893.0 673.1 L898.0 680.9 L903.0 700.3 L907.0 701.3 L912.0 701.3 L916.0 703.0 L921.0 703.6 L926.0 706.6 L930.0 660.3 L935.0 692.9 L939.0 698.4 L944.0 687.2 L948.0 683.0 L953.0 692.9 L958.0 686.2 L962.0 700.9 L967.0 712.5 L971.0 704.0 L976.0 697.3 L981.0 698.2 L985.0 690.4 L990.0 686.6 L994.0 691.4 L999.0 684.1 L1003.0 686.2 L1008.0 670.8 L1013.0 677.7 L1017.0 685.5 L1022.0 680.3 L1026.0 676.7 L1031.0 660.9 L1036.0 655.2 L1040.0 661.3 L1045.0 662.4 L1049.0 679.2 L1054.0 691.4 L1058.0 692.9 L1063.0 697.1 L1068.0 687.5 L1072.0 700.8 L1077.0 698.7 L1081.0 692.2 L1086.0 695.3 L1091.0 712.1 L1095.0 706.5 L1100.0 710.7 L1104.0 670.3 L1109.0 679.5 L1114.0 665.4 L1118.0 647.1 L1123.0 642.3 L1127.0 648.0 L1132.0 659.1 L1136.0 659.5 L1141.0 641.2 L1146.0 637.4 L1150.0 614.9 L1155.0 600.8 L1159.0 599.6 L1164.0 590.1 L1169.0 599.8 L1173.0 577.0 L1178.0 570.7 L1182.0 564.4 L1187.0 599.8 L1191.0 599.6 L1196.0 605.5 L1201.0 596.4 L1205.0 601.2 L1210.0 611.3 L1214.0 624.4 L1219.0 630.1" stroke="#7e57c2" stroke-width="3" fill="none" stroke-linejoin="round" stroke-linecap="round"/>
</g>
<path d="M10.5 27.5H1368V760.5H10.5Z" stroke="#ecedf0" stroke-width="1" fill="none"/>
<path d="M1302.5 27.5V760.5 M10.5 733.5H1368.5" stroke="#dfe0e5" stroke-width="1" fill="none"/>
<path d="M10.5 555.5H1368.5" stroke="#dfe0e5" stroke-width="1" fill="none"/>
<text x="1311.3" y="107.89999999999999" font-size="12" fill="#131722" stroke="#131722" stroke-width="0.22" textLength="29.2" lengthAdjust="spacingAndGlyphs">2.000</text>
<text x="1311.3" y="159.1" font-size="12" fill="#131722" stroke="#131722" stroke-width="0.22" textLength="29.2" lengthAdjust="spacingAndGlyphs">1.800</text>
<text x="1311.3" y="210.29999999999998" font-size="12" fill="#131722" stroke="#131722" stroke-width="0.22" textLength="29.2" lengthAdjust="spacingAndGlyphs">1.600</text>
<text x="1311.3" y="261.50000000000006" font-size="12" fill="#131722" stroke="#131722" stroke-width="0.22" textLength="29.2" lengthAdjust="spacingAndGlyphs">1.400</text>
<text x="1311.3" y="312.70000000000005" font-size="12" fill="#131722" stroke="#131722" stroke-width="0.22" textLength="29.2" lengthAdjust="spacingAndGlyphs">1.200</text>
<text x="1311.3" y="363.90000000000003" font-size="12" fill="#131722" stroke="#131722" stroke-width="0.22" textLength="29.2" lengthAdjust="spacingAndGlyphs">1.000</text>
<text x="1311.3" y="415.1000000000001" font-size="12" fill="#131722" stroke="#131722" stroke-width="0.22" textLength="29.2" lengthAdjust="spacingAndGlyphs">0.800</text>
<g clip-path="url(#cx)">
<text x="1311.3" y="562.85" font-size="12" fill="#131722" stroke="#131722" stroke-width="0.22" textLength="29.2" lengthAdjust="spacingAndGlyphs">80.00</text>
<text x="1311.3" y="593.35" font-size="12" fill="#131722" stroke="#131722" stroke-width="0.22" textLength="29.2" lengthAdjust="spacingAndGlyphs">70.00</text>
<text x="1311.3" y="623.85" font-size="12" fill="#131722" stroke="#131722" stroke-width="0.22" textLength="29.2" lengthAdjust="spacingAndGlyphs">60.00</text>
<text x="1311.3" y="654.35" font-size="12" fill="#131722" stroke="#131722" stroke-width="0.22" textLength="29.2" lengthAdjust="spacingAndGlyphs">50.00</text>
<text x="1311.3" y="684.85" font-size="12" fill="#131722" stroke="#131722" stroke-width="0.22" textLength="29.2" lengthAdjust="spacingAndGlyphs">40.00</text>
<text x="1311.3" y="715.35" font-size="12" fill="#131722" stroke="#131722" stroke-width="0.22" textLength="29.2" lengthAdjust="spacingAndGlyphs">30.00</text>
</g>
<rect x="1306.5" y="31.5" width="58" height="26" rx="4" fill="#fff" stroke="#ebecef"/>
<text x="1315" y="48.5" font-size="12" fill="#131722" stroke="#131722" stroke-width="0.22" textLength="27" lengthAdjust="spacingAndGlyphs">USDT</text>
<path d="M1303 391H1344Q1346 391 1346 393V406Q1346 408 1344 408H1303Z" fill="#0000ff"/>
<text x="1311" y="403.9" font-size="12" fill="#fff" stroke="#fff" stroke-width="0.45" textLength="29.4" lengthAdjust="spacingAndGlyphs">0.845</text>
<path d="M1248.5 436H1302V453H1248.5Q1246 453 1246 450.5V438.5Q1246 436 1248.5 436Z" fill="#ef5350"/>
<text x="1250.6" y="448.9" font-size="12" fill="#fff" stroke="#fff" stroke-width="0.45" textLength="47.2" lengthAdjust="spacingAndGlyphs">FETUSDT</text>
<path d="M1303 436H1361Q1363 436 1363 438V479Q1363 481 1361 481H1303Z" fill="#ef5350"/>
<text x="1311" y="448.9" font-size="12" fill="#fff" stroke="#fff" stroke-width="0.45" textLength="29.4" lengthAdjust="spacingAndGlyphs">0.673</text>
<text x="1311" y="462.8" font-size="12" fill="#fff" stroke="#fff" stroke-width="0.45" textLength="43" lengthAdjust="spacingAndGlyphs">−23.44%</text>
<text x="1311" y="476.7" font-size="12" fill="#fff" stroke="#fff" stroke-width="0.45" textLength="46" lengthAdjust="spacingAndGlyphs" fill-opacity="0.75" stroke-opacity="0.5">08:07:09</text>
<path d="M1273.5 481H1302V498H1273.5Q1271 498 1271 495.5V483.5Q1271 481 1273.5 481Z" fill="#2962ff"/>
<text x="1276.2" y="493.9" font-size="12" fill="#fff" stroke="#fff" stroke-width="0.45" textLength="22" lengthAdjust="spacingAndGlyphs">EMA</text>
<path d="M1303 481H1344Q1346 481 1346 483V496Q1346 498 1344 498H1303Z" fill="#2962ff"/>
<text x="1311" y="493.9" font-size="12" fill="#fff" stroke="#fff" stroke-width="0.45" textLength="28.6" lengthAdjust="spacingAndGlyphs">0.651</text>
<path d="M1303 498H1344Q1346 498 1346 500V513Q1346 515 1344 515H1303Z" fill="#0000ff"/>
<text x="1311" y="510.9" font-size="12" fill="#fff" stroke="#fff" stroke-width="0.45" textLength="29.4" lengthAdjust="spacingAndGlyphs">0.593</text>
<path d="M1254.5 515H1302V532H1254.5Q1252 532 1252 529.5V517.5Q1252 515 1254.5 515Z" fill="#f23645"/>
<text x="1256.9" y="527.9" font-size="12" fill="#fff" stroke="#fff" stroke-width="0.45" textLength="41.4" lengthAdjust="spacingAndGlyphs">SMA:MA</text>
<path d="M1303 515H1344Q1346 515 1346 517V530Q1346 532 1344 532H1303Z" fill="#f23645"/>
<text x="1311" y="527.9" font-size="12" fill="#fff" stroke="#fff" stroke-width="0.45" textLength="29.4" lengthAdjust="spacingAndGlyphs">0.546</text>
<path d="M1225.5 590H1302V607H1225.5Q1223 607 1223 604.5V592.5Q1223 590 1225.5 590Z" fill="#ffeb3b"/>
<text x="1227.7" y="602.9" font-size="12" fill="#131722" stroke="#131722" stroke-width="0.22" textLength="70.2" lengthAdjust="spacingAndGlyphs">RSI-based MA</text>
<path d="M1303 590H1344Q1346 590 1346 592V605Q1346 607 1344 607H1303Z" fill="#ffeb3b"/>
<text x="1311" y="602.9" font-size="12" fill="#131722" stroke="#131722" stroke-width="0.22" textLength="29.4" lengthAdjust="spacingAndGlyphs">67.08</text>
<path d="M1279.5 622H1302V639H1279.5Q1277 639 1277 636.5V624.5Q1277 622 1279.5 622Z" fill="#7e57c2"/>
<text x="1282.4" y="634.9" font-size="12" fill="#fff" stroke="#fff" stroke-width="0.45" textLength="15.5" lengthAdjust="spacingAndGlyphs">RSI</text>
<path d="M1303 622H1344Q1346 622 1346 624V637Q1346 639 1344 639H1303Z" fill="#7e57c2"/>
<text x="1311" y="634.9" font-size="12" fill="#fff" stroke="#fff" stroke-width="0.45" textLength="29.4" lengthAdjust="spacingAndGlyphs">56.49</text>
<g transform="translate(1219.57 542.36)"><path d="M9.37 -2.87A9.8 9.8 0 1 1 3.19 -9.27" fill="none" stroke="#9024ac" stroke-width="1.5" stroke-linecap="round"/><path d="M2.56 -5L-4.2 0.1L-0.45 0.5L-3.2 5.3L4.07 -0.1L0.3 -0.5z" fill="#9024ac" stroke="#9024ac" stroke-width="0.2" stroke-linejoin="round"/><circle cx="6.95" cy="-6.8" r="2.6" fill="#f23645"/></g>
<text x="96.5" y="750.4" font-size="11.6" fill="#131722" stroke="#131722" stroke-width="0.22" text-anchor="middle">Sep</text>
<text x="233.5" y="750.4" font-size="11.6" fill="#131722" stroke="#131722" stroke-width="0.22" text-anchor="middle">Oct</text>
<text x="375.5" y="750.4" font-size="11.6" fill="#131722" stroke="#131722" stroke-width="0.22" text-anchor="middle">Nov</text>
<text x="513.5" y="750.4" font-size="11.6" fill="#131722" stroke="#131722" stroke-width="0.22" text-anchor="middle">Dec</text>
<text x="655.5" y="750.4" font-size="11.6" fill="#131722" text-anchor="middle" font-weight="bold" stroke="none">2025</text>
<text x="797.5" y="750.4" font-size="11.6" fill="#131722" stroke="#131722" stroke-width="0.22" text-anchor="middle">Feb</text>
<text x="926.5" y="750.4" font-size="11.6" fill="#131722" stroke="#131722" stroke-width="0.22" text-anchor="middle">Mar</text>
<text x="1068.5" y="750.4" font-size="11.6" fill="#131722" stroke="#131722" stroke-width="0.22" text-anchor="middle">Apr</text>
<text x="1205.5" y="750.4" font-size="11.6" fill="#131722" stroke="#131722" stroke-width="0.22" text-anchor="middle">May</text>
<text x="10.4" y="19.1" font-size="12" fill="#131722" stroke="#131722" stroke-width="0.22" textLength="59.0" lengthAdjust="spacingAndGlyphs">ranadagger</text>
<text x="74.2" y="19.1" font-size="12" fill="#131722" stroke="#131722" stroke-width="0.22" textLength="49.5" lengthAdjust="spacingAndGlyphs">published</text>
<text x="129" y="19.1" font-size="12" fill="#131722" stroke="#131722" stroke-width="0.22" textLength="12.3" lengthAdjust="spacingAndGlyphs">on</text>
<text x="146.1" y="19.1" font-size="12" fill="#131722" stroke="#131722" stroke-width="0.22" textLength="93.3" lengthAdjust="spacingAndGlyphs">TradingView.com,</text>
<text x="243.9" y="19.1" font-size="12" fill="#131722" stroke="#131722" stroke-width="0.22" textLength="19.9" lengthAdjust="spacingAndGlyphs">May</text>
<text x="268.6" y="19.1" font-size="12" fill="#131722" stroke="#131722" stroke-width="0.22" textLength="15.2" lengthAdjust="spacingAndGlyphs">04,</text>
<text x="289.4" y="19.1" font-size="12" fill="#131722" stroke="#131722" stroke-width="0.22" textLength="23.9" lengthAdjust="spacingAndGlyphs">2025</text>
<text x="318.1" y="19.1" font-size="12" fill="#131722" stroke="#131722" stroke-width="0.22" textLength="28.2" lengthAdjust="spacingAndGlyphs">15:52</text>
<text x="351.1" y="19.1" font-size="12" fill="#131722" stroke="#131722" stroke-width="0.22" textLength="21.3" lengthAdjust="spacingAndGlyphs">UTC</text>
<text x="18.1" y="45.8" font-size="12" fill="#131722" stroke="#131722" stroke-width="0.22" textLength="44.5" lengthAdjust="spacingAndGlyphs">Fetch.AI</text>
<text x="67.1" y="45.8" font-size="12" fill="#131722" stroke="#131722" stroke-width="0.22" textLength="4.6" lengthAdjust="spacingAndGlyphs">/</text>
<text x="77.1" y="45.8" font-size="12" fill="#131722" stroke="#131722" stroke-width="0.22" textLength="47.2" lengthAdjust="spacingAndGlyphs">TetherUS</text>
<text x="128.6" y="45.8" font-size="12" fill="#131722" stroke="#131722" stroke-width="0.22" textLength="3.8" lengthAdjust="spacingAndGlyphs">·</text>
<text x="137.3" y="45.8" font-size="12" fill="#131722" stroke="#131722" stroke-width="0.22" textLength="11.8" lengthAdjust="spacingAndGlyphs">1D</text>
<text x="154" y="45.8" font-size="12" fill="#131722" stroke="#131722" stroke-width="0.22" textLength="3.8" lengthAdjust="spacingAndGlyphs">·</text>
<text x="161.5" y="45.8" font-size="12" fill="#131722" stroke="#131722" stroke-width="0.22" textLength="45.0" lengthAdjust="spacingAndGlyphs">BINANCE</text>
<text x="214.8" y="45.8" font-size="12" fill="#131722" stroke="#131722" stroke-width="0.22" textLength="7.6" lengthAdjust="spacingAndGlyphs">O</text>
<text x="223.6" y="45.8" font-size="12" fill="#ef5350" stroke="#ef5350" stroke-width="0.22" textLength="29" lengthAdjust="spacingAndGlyphs">0.684</text>
<text x="260.3" y="45.8" font-size="12" fill="#131722" stroke="#131722" stroke-width="0.22" textLength="6.8" lengthAdjust="spacingAndGlyphs">H</text>
<text x="268" y="45.8" font-size="12" fill="#ef5350" stroke="#ef5350" stroke-width="0.22" textLength="28.5" lengthAdjust="spacingAndGlyphs">0.696</text>
<text x="305.4" y="45.8" font-size="12" fill="#131722" stroke="#131722" stroke-width="0.22" textLength="4.8" lengthAdjust="spacingAndGlyphs">L</text>
<text x="310.4" y="45.8" font-size="12" fill="#ef5350" stroke="#ef5350" stroke-width="0.22" textLength="29.4" lengthAdjust="spacingAndGlyphs">0.669</text>
<text x="347.6" y="45.8" font-size="12" fill="#131722" stroke="#131722" stroke-width="0.22" textLength="6.9" lengthAdjust="spacingAndGlyphs">C</text>
<text x="354.8" y="45.8" font-size="12" fill="#ef5350" stroke="#ef5350" stroke-width="0.22" textLength="29" lengthAdjust="spacingAndGlyphs">0.673</text>
<text x="391.6" y="45.8" font-size="12" fill="#ef5350" stroke="#ef5350" stroke-width="0.22" textLength="34.2" lengthAdjust="spacingAndGlyphs">−0.011</text>
<text x="431.6" y="45.8" font-size="12" fill="#ef5350" stroke="#ef5350" stroke-width="0.22" textLength="44.4" lengthAdjust="spacingAndGlyphs">(−1.61%)</text>
<text x="18.1" y="62.5" font-size="12" fill="#131722" stroke="#131722" stroke-width="0.22" textLength="21.4" lengthAdjust="spacingAndGlyphs">EMA</text>
<text x="44.4" y="62.5" font-size="12" fill="#131722" stroke="#131722" stroke-width="0.22" textLength="20.0" lengthAdjust="spacingAndGlyphs">(20,</text>
<text x="68.6" y="62.5" font-size="12" fill="#131722" stroke="#131722" stroke-width="0.22" textLength="31.2" lengthAdjust="spacingAndGlyphs">close)</text>
<text x="107.6" y="62.5" font-size="12" fill="#2962ff" stroke="#2962ff" stroke-width="0.22" textLength="28.5" lengthAdjust="spacingAndGlyphs">0.651</text>
<text x="18.1" y="79.5" font-size="12" fill="#131722" stroke="#131722" stroke-width="0.22" textLength="20.9" lengthAdjust="spacingAndGlyphs">SMA</text>
<text x="44.1" y="79.5" font-size="12" fill="#131722" stroke="#131722" stroke-width="0.22" textLength="20.3" lengthAdjust="spacingAndGlyphs">(50,</text>
<text x="68.6" y="79.5" font-size="12" fill="#131722" stroke="#131722" stroke-width="0.22" textLength="30.8" lengthAdjust="spacingAndGlyphs">close)</text>
<text x="107" y="79.5" font-size="12" fill="#f23645" stroke="#f23645" stroke-width="0.22" textLength="29" lengthAdjust="spacingAndGlyphs">0.546</text>
<text x="18.4" y="575" font-size="12" fill="#131722" stroke="#131722" stroke-width="0.22" textLength="14.6" lengthAdjust="spacingAndGlyphs">RSI</text>
<text x="38.7" y="575" font-size="12" fill="#131722" stroke="#131722" stroke-width="0.22" textLength="18.3" lengthAdjust="spacingAndGlyphs">(14,</text>
<text x="62.2" y="575" font-size="12" fill="#131722" stroke="#131722" stroke-width="0.22" textLength="31.7" lengthAdjust="spacingAndGlyphs">close)</text>
<text x="102.3" y="575" font-size="12" fill="#7e57c2" stroke="#7e57c2" stroke-width="0.22" textLength="28.2" lengthAdjust="spacingAndGlyphs">56.49</text>
<text x="138.5" y="575" font-size="12" fill="#fdd835" stroke="#fdd835" stroke-width="0.22" textLength="29.1" lengthAdjust="spacingAndGlyphs">67.08</text>
<text x="174.5" y="575.3" font-size="12" fill="#131722" stroke="#131722" stroke-width="0.22" textLength="8.8" lengthAdjust="spacingAndGlyphs" style="font-family:'Noto Sans CJK SC',sans-serif">∅</text>
<text x="190.6" y="575.3" font-size="12" fill="#131722" stroke="#131722" stroke-width="0.22" textLength="8.8" lengthAdjust="spacingAndGlyphs" style="font-family:'Noto Sans CJK SC',sans-serif">∅</text>
<text x="205.9" y="575.3" font-size="12" fill="#131722" stroke="#131722" stroke-width="0.22" textLength="8.8" lengthAdjust="spacingAndGlyphs" style="font-family:'Noto Sans CJK SC',sans-serif">∅</text>
<text x="220.7" y="575.3" font-size="12" fill="#131722" stroke="#131722" stroke-width="0.22" textLength="8.8" lengthAdjust="spacingAndGlyphs" style="font-family:'Noto Sans CJK SC',sans-serif">∅</text>
<g fill="#131722"><path d="M10 773.1h7.85v9.6h-4.65v-5.8h-3.2z"/><circle cx="20.8" cy="775" r="1.65"/><path d="M24.2 773.1h5.5l-3.6 9.6h-4.8z"/></g>
<text x="33.3" y="782.7" font-size="12.6" fill="#131722" textLength="69.8" lengthAdjust="spacingAndGlyphs" stroke="#131722" stroke-width="0.3">TradingView</text>
</svg></body></html>
